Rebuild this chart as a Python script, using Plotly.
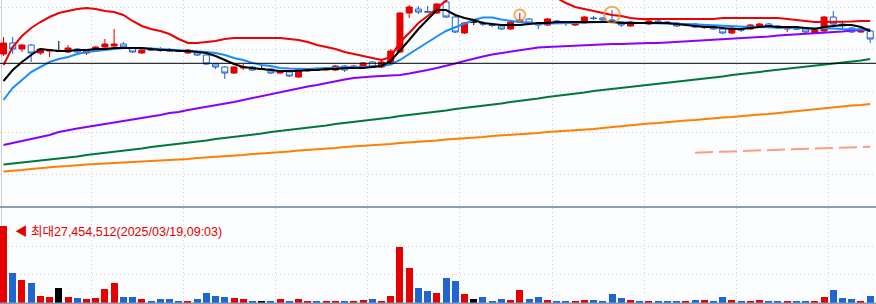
import plotly.graph_objects as go

# ---------------- data ----------------
idx = list(range(95))

open_ = [152, 163, 157, 161, 153, 155, 155, 154, 157, 153,
         155, 159, 160, 162, 158, 153, 157, 157, 156, 156,
         153, 154, 151, 142, 139, 133, 138, 139, 137, 137,
         133, 134, 129, 135, 137, 136, 136, 140, 138, 139,
         144, 139, 143, 154, 193, 197, 194.5, 193, 204, 189,
         173, 184, 183, 181, 180, 177, 184, 187, 183, 181,
         185, 183, 181, 183, 188, 188, 186, 184, 180, 183,
         182, 185, 184, 183, 181, 182, 179, 179, 177, 173,
         177, 177, 180, 182, 180, 177, 178, 177, 173, 175,
         189, 182, 178, 174, 175]
close = [163, 157, 161, 153, 157, 156, 155, 158, 154, 156,
         159, 162, 162, 159, 154, 156, 156, 156, 155, 155,
         156, 151, 142, 139, 133, 139, 139, 136, 137, 133,
         135, 130, 137, 137, 136, 138, 140, 136, 140, 143,
         139, 144, 155, 193, 199, 194, 194, 202, 189, 174,
         183, 184, 182, 180.5, 177, 184, 186, 183, 181, 187,
         183, 182.5, 184, 189, 187.5, 186, 185, 181, 184, 182.5,
         185, 183, 183, 180, 182, 179, 180, 177, 173, 178,
         176, 181, 182, 179, 178, 178, 177, 174, 176, 189,
         182, 180, 174, 177, 167]
high = [169, 169, 162, 162, 158, 157, 165, 161, 158, 157,
        160, 167, 177, 164, 159, 157, 159, 159, 158, 157,
        157, 155, 153, 143, 140, 140, 142, 140, 140, 138,
        136, 135, 138, 138, 139, 139, 141, 141, 141, 144,
        145, 146, 157, 194, 201, 200, 200, 203, 205.5, 190,
        184, 186, 185, 183, 181, 185, 193, 188, 184, 188,
        186, 184, 185, 190, 190, 189, 196, 185, 185, 184,
        186, 186, 185, 184, 183, 183, 181, 180, 178, 179,
        178, 182, 183, 183, 181, 179, 179, 178, 177, 190,
        195, 184, 179, 178, 176]
low = [150, 152, 154, 144, 151, 149, 154, 153, 153, 151,
       154, 156, 157, 158, 153, 152, 155, 154, 154, 154,
       152, 150, 141, 137, 127, 132, 136, 135, 136, 132,
       132, 129, 128, 134, 135, 135, 135, 134, 137, 138,
       138, 138, 142, 153, 188, 192, 193, 192, 188, 173,
       172, 181, 180, 179, 176, 176, 183, 182, 177, 180,
       182, 180, 180, 182, 186, 185, 184, 179, 179, 182,
       181, 182, 182, 179, 180, 178, 177, 176, 172, 172,
       174, 176, 179, 178, 177, 174, 176, 173, 172, 174,
       181, 177, 173, 173, 163]

volume = [27454512, 10700000, 8200000, 7130000, 2500000, 2140000, 5350000, 2140000, 1780000, 1600000,
          1780000, 4990000, 7130000, 2140000, 2140000, 1250000, 890000, 1250000, 1250000, 890000,
          890000, 1250000, 3390000, 2670000, 2140000, 1960000, 1600000, 530000, 530000, 890000,
          1250000, 890000, 1250000, 360000, 360000, 360000, 360000, 360000, 360000, 1070000,
          1430000, 360000, 2500000, 19970000, 12480000, 5350000, 4280000, 3570000, 8910000, 7840000,
          3210000, 1430000, 2140000, 710000, 1430000, 1070000, 4640000, 1430000, 2140000, 1070000,
          710000, 710000, 710000, 1070000, 1070000, 710000, 3210000, 1780000, 1070000, 360000,
          360000, 710000, 710000, 710000, 360000, 1070000, 1070000, 360000, 2140000, 1070000,
          710000, 710000, 1070000, 710000, 710000, 710000, 360000, 360000, 710000, 2140000,
          4640000, 1780000, 1430000, 710000, 2500000]

band_upper = [141, 159, 170, 178, 184, 189, 193, 195, 197, 198,
              197, 195, 194, 191, 185, 180, 177, 175, 172, 167,
              163, 163, 164, 165, 167, 168, 168, 168, 168, 168,
              168, 167, 166, 164, 161, 159, 157, 154, 152, 150,
              148, 146, 149, 164, 173, 183, 190, 198, 206, 214,
              221, 226, 230, 232, 233, 232, 230, 226, 221, 215,
              208, 203, 199, 197, 195, 193, 191, 190, 188, 187,
              187, 187, 187, 187, 187, 187, 187, 187, 188, 188,
              188, 188, 188, 188, 188, 187, 186, 185, 184, 184,
              184, 184, 184.5, 185, 185]
ma5 = [125, 136, 144, 151, 157, 156, 155, 155, 156, 156,
       157, 157, 158, 158, 158, 158, 157, 156, 156, 155,
       155, 154, 153, 150, 146, 142, 139, 138, 137, 136,
       135, 135, 135, 136, 136, 137, 137, 138, 138, 138,
       139, 140, 145, 155, 166, 177, 187, 196, 196, 191,
       188, 186, 183, 182, 181, 181, 181, 182, 183, 183,
       184, 184, 184, 184, 184, 184, 184, 183, 183, 183,
       183, 183, 183, 182, 181, 180, 179, 179, 178, 177,
       177, 178, 179, 180, 179, 179, 179, 178, 177, 179,
       180, 181, 181, 179, 175]
ma10 = [106, 118, 126, 134, 139, 144, 147, 149, 152, 154,
        155, 156, 157.5, 158, 158, 158, 157.5, 157, 156.5, 156,
        155.5, 155, 154, 153, 151, 148, 146, 143, 141, 140,
        138, 137.5, 137, 137, 137.5, 138, 138, 138.5, 139, 139,
        139.5, 140, 141.5, 146, 152, 158, 163.5, 169.5, 175, 178.5,
        182.5, 186, 188.5, 188.5, 186.5, 185, 184, 183, 182, 182.5,
        182.5, 182.5, 183, 183.5, 184, 184, 184, 183.5, 183, 183,
        183, 182.5, 182.5, 182, 182, 181.5, 181, 181, 180.5, 180,
        179.5, 179, 179, 178.5, 178, 178, 178, 178, 178, 177.5,
        177.5, 177, 177, 176.5, 176]
ma60 = [61, 63, 65, 67, 69, 71, 74, 76, 77.5, 79,
        80.5, 82, 83, 84.5, 86, 88, 89.5, 91, 93, 94,
        96, 97.5, 99, 101, 102.5, 104, 106, 108, 110, 112,
        114, 115.5, 117.5, 119.5, 121, 123, 125, 126.5, 128, 129,
        129.5, 130, 130.5, 131, 132.5, 134, 136, 138, 140, 142.5,
        145, 147.5, 149.5, 151.5, 153, 154.5, 156, 157.5, 158.5, 159,
        159.5, 160, 160.5, 161, 161.5, 162, 162, 162, 162.5, 163,
        163, 163, 163.5, 164, 165, 165.5, 166, 166.5, 167, 167.5,
        167.5, 168, 169, 169.5, 170.5, 171, 171.5, 172, 173, 173.5,
        174, 174.5, 175.5, 176, 176.5]
ma120 = [41.5, 42.5, 43.5, 44, 45, 46, 47.5, 48.5, 49.5, 51,
         52, 53, 54.5, 55.5, 56.5, 57.5, 59, 60, 61, 62.5,
         63.5, 64.5, 65.5, 67, 68, 69, 70.5, 71.5, 72.5, 74,
         75, 76, 77, 78.5, 79.5, 80.5, 82, 83, 84, 85,
         86.5, 87.5, 88.5, 90, 91, 92, 93.5, 94.5, 95.5, 97,
         98, 99, 100.5, 101.5, 102.5, 104, 105, 106.5, 107.5, 109,
         110, 111.5, 112.5, 113.5, 115, 116, 117.5, 118.5, 119.5, 120.5,
         121.5, 122.5, 123.5, 124.5, 125.5, 126.5, 127.5, 128.5, 129.5, 131,
         132, 133, 134, 135, 136, 137, 138, 139, 140, 141,
         142, 143, 144.5, 145.5, 147]
ma240 = [34.5, 35, 36, 37, 38, 39, 39.5, 40, 41, 41.5,
         42, 42.5, 43, 43, 43.5, 44, 44.5, 45, 45.5, 46.5,
         47, 48, 48.5, 49, 50, 50.5, 51, 52, 52.5, 53.5,
         54, 54.5, 55.5, 56, 56.5, 57.5, 58, 59, 59.5, 60.5,
         61, 61.5, 62, 63, 63.5, 64.5, 65, 65.5, 66.5, 67,
         68, 68.5, 69, 70, 70.5, 71, 71.5, 72.5, 73, 74,
         74.5, 75, 75.5, 76.5, 77, 78, 79, 80, 81, 81.5,
         82.5, 83, 84, 84.5, 85.5, 86, 87, 87.5, 88.5, 89,
         90, 90.5, 91.5, 92, 93, 94, 95, 95.5, 96.5, 97.5,
         98.5, 99.5, 100.5, 101, 102]
dash_idx = list(range(75, 95))
dash_line = [53.3, 53.8, 54.2, 54.4, 54.6, 55, 55.3, 55.5, 56, 56,
             56.3, 57, 57, 57.3, 58, 58.3, 58.6, 59, 59.3, 59.3]

ref_price = 142.7
signal_idx = [56, 66]
signal_price = [191, 191.3]
signal_size = [11, 16]

max_label = "◀ 최대27,454,512(2025/03/19,09:03)"

price_grid = [32, 74, 115, 157, 199]
vol_grid = [10_000_000, 20_000_000]
time_grid = [9.5, 19.5, 29.5, 39.5, 49.5, 59.5, 69.5, 79.5, 89.5]

# ---------------- styling ----------------
BG = "#fbfdff"
RED = "#e60000"
BLUE_C = "#1f5fd0"
BLUE_V = "#1f66d1"
GRID = "#cfd3d8"


def colour(o, c, up, down, flat):
    return up if c > o else (down if c < o else flat)


fig = go.Figure()

# volume
vol_colors = [colour(o, c, RED, BLUE_V, "#000000") for o, c in zip(open_, close)]
fig.add_trace(go.Bar(x=idx, y=volume, width=0.76, marker=dict(color=vol_colors, line=dict(width=0)),
                     xaxis="x2", yaxis="y2", hoverinfo="skip"))

# candles (three groups: up / down / unchanged)
groups = [("up", RED, RED), ("down", BLUE_C, BG), ("flat", "#000000", "#000000")]
for name, lc, fc in groups:
    sel = [i for i in idx if colour(open_[i], close[i], "up", "down", "flat") == name]
    fig.add_trace(go.Candlestick(
        x=sel, open=[open_[i] for i in sel], high=[high[i] for i in sel],
        low=[low[i] for i in sel], close=[close[i] for i in sel],
        increasing=dict(line=dict(color=lc, width=1), fillcolor=fc),
        decreasing=dict(line=dict(color=lc, width=1), fillcolor=fc),
        whiskerwidth=0, hoverinfo="skip", xaxis="x", yaxis="y"))

lines = [
    (ma240, "#ff7f00"),
    (ma120, "#00783c"),
    (ma60, "#8a00ff"),
    (band_upper, "#ee0000"),
    (ma10, "#1a8cff"),
    (ma5, "#000000"),
]
for vals, col in lines:
    fig.add_trace(go.Scatter(x=idx, y=vals, mode="lines", line=dict(color=col, width=2),
                             hoverinfo="skip", xaxis="x", yaxis="y"))

fig.add_trace(go.Scatter(x=dash_idx, y=dash_line, mode="lines",
                         line=dict(color="#ff9a84", width=2, dash="18px,6px"),
                         hoverinfo="skip", xaxis="x", yaxis="y"))

fig.add_trace(go.Scatter(x=signal_idx, y=signal_price, mode="markers",
                         marker=dict(symbol="circle-open", size=signal_size,
                                     line=dict(color="#f08a28", width=2), color="#f08a28"),
                         hoverinfo="skip", xaxis="x", yaxis="y"))

H = 304.0
xr = [-0.38, 94.63]
axis_common = dict(range=xr, showticklabels=False, ticks="", zeroline=False,
                   showgrid=True, gridcolor=GRID, griddash="1px,3px", gridwidth=1,
                   tickmode="array", tickvals=time_grid, fixedrange=True)

fig.update_layout(
    width=876, height=304,
    margin=dict(l=0, r=0, t=0, b=0, pad=0),
    paper_bgcolor=BG, plot_bgcolor=BG,
    showlegend=False,
    boxgap=0.35, boxgroupgap=0,
    bargap=0,
    xaxis=dict(domain=[0, 1], anchor="y", rangeslider=dict(visible=False), **axis_common),
    xaxis2=dict(domain=[0, 1], anchor="y2", **axis_common),
    yaxis=dict(domain=[1 - 206 / H, 1], range=[0, 206], showticklabels=False, ticks="",
               zeroline=False, showgrid=True, gridcolor=GRID, griddash="1px,3px",
               tickmode="array", tickvals=price_grid, fixedrange=True),
    yaxis2=dict(domain=[1 - 303 / H, 1 - 208 / H], range=[0, 33872440], showticklabels=False,
                ticks="", zeroline=False, showgrid=True, gridcolor=GRID, griddash="1px,3px",
                tickmode="array", tickvals=vol_grid, fixedrange=True),
    shapes=[
        dict(type="line", xref="paper", yref="y", x0=0, x1=1, y0=ref_price, y1=ref_price,
             line=dict(color="#000000", width=1)),
        dict(type="line", xref="paper", yref="paper", x0=0, x1=1,
             y0=1 - 207 / H, y1=1 - 207 / H, line=dict(color="#8d9cb2", width=2)),
        dict(type="line", xref="paper", yref="paper", x0=0, x1=1,
             y0=1 - 303.5 / H, y1=1 - 303.5 / H, line=dict(color="#8d9cb2", width=2)),
        dict(type="line", xref="paper", yref="paper", x0=1.5 / 876, x1=1.5 / 876,
             y0=0, y1=1, line=dict(color="#cfcfcf", width=1), layer="below"),
    ],
    annotations=[dict(text=max_label, xref="paper", yref="paper", x=13 / 876, y=1 - 232 / H,
                      xanchor="left", yanchor="middle", showarrow=False,
                      font=dict(family="Liberation Sans, Noto Sans CJK KR, sans-serif",
                                size=12.5, color=RED))],
)

fig.write_html("out.html", config={"displayModeBar": False})
